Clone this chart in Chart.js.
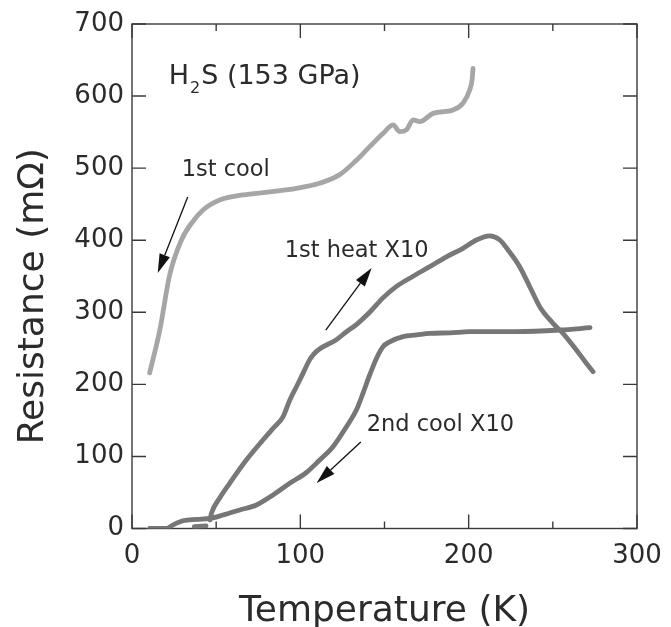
<!DOCTYPE html>
<html><head><meta charset="utf-8">
<script src="https://cdn.jsdelivr.net/npm/chart.js@4/dist/chart.umd.min.js"></script>
<style>html,body{margin:0;padding:0;background:#fff}#wrap{width:671px;height:627px}</style>
</head><body><div id="wrap"><canvas id="c" width="671" height="627"></canvas></div>
<script>
// Axis ranges / ticks
const xMajorTicks = [0, 100, 200, 300];
const xMinorTicks = [50, 150, 250];
const yMajorTicks = [0, 100, 200, 300, 400, 500, 600, 700];

// 1st cool (mOhm)
const cool1T = [10.5, 16.5, 22.4, 29.3, 35.3, 42.2, 52.1, 66, 81.8, 97.7, 111.4, 123.4, 133.3, 141.2, 149.1, 155.1, 159, 163, 167, 171, 178.8, 190.7, 196.6, 200.6, 202, 202.6];
const cool1R = [216, 275, 352, 400, 423.5, 442, 455.8, 462.8, 467, 472, 479, 491, 511, 529.8, 548, 560, 550.6, 553, 567, 564.5, 576, 580.7, 590, 608.5, 622, 638.5];

// 1st heat X10
const heat1T = [37, 44, 45, 46.3, 47.3, 52, 58, 67.9, 77.8, 83.8, 89.7, 93.7, 97.7, 101.6, 105.5, 108, 111.4, 121.4, 127.4, 133.3, 141.2, 149.1, 157.1, 167, 176.9, 186.8, 196.6, 204.6, 212.5, 218.5, 223.4, 230.3, 236.3, 242.2, 250.1, 256, 264, 269.9, 273.9];
const heat1R = [2.5, 3.5, null, 12, 22, 42, 62.7, 95, 122.8, 139, 155, 178, 196.7, 215.3, 234, 242, 249, 262, 273, 283, 300, 320, 336, 350, 363.3, 377, 388.8, 400.3, 405.9, 400.3, 386.4, 363.3, 335.5, 307.8, 284.7, 270.8, 247.7, 229.2, 217.6];

// 2nd cool X10
const cool2T = [10.5, 20.4, 24.4, 30.3, 38.3, 46.2, 54.1, 64, 73.9, 83.8, 93.7, 103.6, 111.5, 119.4, 127.4, 133.3, 137.2, 141.2, 145.2, 149.1, 153.1, 161, 169, 176.9, 188.8, 200.6, 228.4, 254.2, 272.1];
const cool2R = [0, 0, 5, 10.8, 12.7, 14, 18.7, 25.7, 32.6, 46.5, 62.7, 77.7, 95, 113.5, 141.3, 164.4, 187.6, 213, 236, 252.3, 259, 266.2, 268.5, 270.8, 271.5, 273.1, 273.1, 275.4, 278.6];

// Annotations (data coordinates)
const labelTexts = ["1st cool", "1st heat X10", "2nd cool X10"];
const labelT = [29.5, 90.7, 139.4];
const labelR = [489, 376.7, 135.3];
const arrowFromT = [33.1, 115.1, 135.9];
const arrowFromR = [460, 275.4, 120];
const arrowToT = [15.3, 142.4, 109.7];
const arrowToR = [354.5, 361.5, 63.1];
const titleT = 21.8, titleR = 616.8;
const yTitle = 'Resistance (mΩ)';
const xTitle = 'Temperature (K)';

const FONT = '"DejaVu Sans", "Liberation Sans", Arial, sans-serif';
const INK = '#2b2b2b';

function pts(T, R) { return T.map((t, i) => ({x: t, y: R[i]})); }

const framePlugin = {
  id: 'frame',
  beforeDatasetsDraw(chart) {
    const {ctx, chartArea: a, scales: {x, y}} = chart;
    ctx.save();
    ctx.strokeStyle = '#3a3a3a';
    ctx.lineWidth = 1.4;
    ctx.strokeRect(a.left, a.top, a.right - a.left, a.bottom - a.top);
    ctx.beginPath();
    xMajorTicks.forEach(v => {
      const px = x.getPixelForValue(v);
      ctx.moveTo(px, a.bottom); ctx.lineTo(px, a.bottom - 14);
      ctx.moveTo(px, a.top); ctx.lineTo(px, a.top + 14);
    });
    xMinorTicks.forEach(v => {
      const px = x.getPixelForValue(v);
      ctx.moveTo(px, a.bottom); ctx.lineTo(px, a.bottom - 7);
      ctx.moveTo(px, a.top); ctx.lineTo(px, a.top + 7);
    });
    yMajorTicks.forEach(v => {
      const py = y.getPixelForValue(v);
      ctx.moveTo(a.left, py); ctx.lineTo(a.left + 14, py);
      ctx.moveTo(a.right, py); ctx.lineTo(a.right - 14, py);
    });
    ctx.stroke();
    // y-axis title
    ctx.fillStyle = INK;
    ctx.font = '36px ' + FONT;
    ctx.textAlign = 'center';
    ctx.textBaseline = 'middle';
    ctx.translate(34, (a.top + a.bottom) / 2 + 20);
    ctx.rotate(-Math.PI / 2);
    ctx.fillText(yTitle, 0, 0);
    ctx.restore();
  }
};

const annotPlugin = {
  id: 'annot',
  afterDatasetsDraw(chart) {
    const {ctx, scales: {x, y}} = chart;
    ctx.save();
    ctx.fillStyle = INK;
    ctx.textBaseline = 'alphabetic';
    ctx.textAlign = 'left';
    // title with subscript
    let tx = x.getPixelForValue(titleT), ty = y.getPixelForValue(titleR);
    ctx.font = '27px ' + FONT;
    ctx.fillText('H', tx, ty);
    tx += ctx.measureText('H').width;
    ctx.font = '16px ' + FONT;
    ctx.fillText('2', tx + 1, ty + 9);
    tx += ctx.measureText('2').width + 2;
    ctx.font = '27px ' + FONT;
    ctx.fillText('S (153 GPa)', tx, ty);
    ctx.font = '22.5px ' + FONT;
    labelTexts.forEach((s, i) => ctx.fillText(s, x.getPixelForValue(labelT[i]), y.getPixelForValue(labelR[i])));
    // arrows
    ctx.strokeStyle = '#111';
    ctx.fillStyle = '#111';
    ctx.lineWidth = 1.3;
    arrowFromT.forEach((_, i) => {
      const x0 = x.getPixelForValue(arrowFromT[i]), y0 = y.getPixelForValue(arrowFromR[i]);
      const x1 = x.getPixelForValue(arrowToT[i]), y1 = y.getPixelForValue(arrowToR[i]);
      const ang = Math.atan2(y1 - y0, x1 - x0);
      const hl = 19, hw = 5.5;
      const bx = x1 - hl * Math.cos(ang), by = y1 - hl * Math.sin(ang);
      ctx.beginPath(); ctx.moveTo(x0, y0); ctx.lineTo(bx, by); ctx.stroke();
      ctx.beginPath();
      ctx.moveTo(x1, y1);
      ctx.lineTo(bx + hw * Math.sin(ang), by - hw * Math.cos(ang));
      ctx.lineTo(bx - hw * Math.sin(ang), by + hw * Math.cos(ang));
      ctx.closePath(); ctx.fill();
    });
    ctx.restore();
  }
};

const lineStyle = {showLine: true, borderWidth: 4.8, pointRadius: 0, cubicInterpolationMode: 'monotone', spanGaps: false, borderCapStyle: 'round', borderJoinStyle: 'round'};

new Chart(document.getElementById('c'), {
  type: 'scatter',
  data: {
    datasets: [
      Object.assign({label: '1st cool', data: pts(cool1T, cool1R), borderColor: '#a6a6a6'}, lineStyle),
      Object.assign({label: '1st heat X10', data: pts(heat1T, heat1R), borderColor: '#787878'}, lineStyle),
      Object.assign({label: '2nd cool X10', data: pts(cool2T, cool2R), borderColor: '#767676'}, lineStyle)
    ]
  },
  options: {
    responsive: false,
    animation: false,
    devicePixelRatio: 1,
    layout: {padding: {left: 0, right: 34, top: 24, bottom: 0}},
    plugins: {legend: {display: false}, tooltip: {enabled: false}},
    scales: {
      x: {
        type: 'linear', position: 'bottom', min: 0, max: 300,
        afterBuildTicks(s) { s.ticks = xMajorTicks.map(v => ({value: v})); },
        afterFit(s) { s.height = 98.5; s.paddingLeft = 0; s.paddingRight = 0; },
        grid: {display: false, drawTicks: false},
        border: {display: false},
        ticks: {padding: 12, color: INK, font: {family: FONT, size: 26}, maxRotation: 0},
        title: {display: true, text: xTitle, color: INK, font: {family: FONT, size: 36, lineHeight: 0.84}, padding: {top: 0, bottom: 0}}
      },
      y: {
        type: 'linear', position: 'left', min: 0, max: 700,
        afterBuildTicks(s) { s.ticks = yMajorTicks.map(v => ({value: v})); },
        afterFit(s) { s.width = 132; s.paddingTop = 0; s.paddingBottom = 0; },
        grid: {display: false, drawTicks: false},
        border: {display: false},
        ticks: {padding: 8, color: INK, font: {family: FONT, size: 26}},
        title: {display: false}
      }
    }
  },
  plugins: [framePlugin, annotPlugin]
});
</script>
</body></html>
